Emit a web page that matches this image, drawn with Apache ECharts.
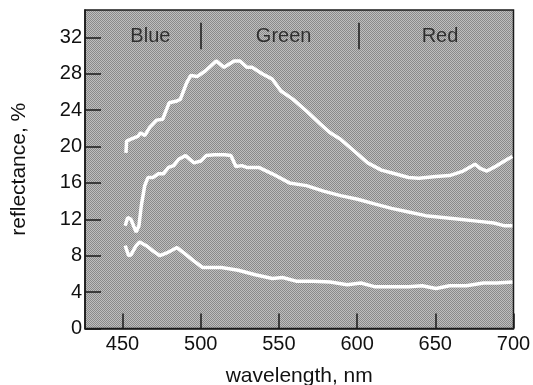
<!DOCTYPE html>
<html><head><meta charset="utf-8">
<script src="https://cdn.jsdelivr.net/npm/echarts@6/dist/echarts.min.js"></script>
<style>html,body{margin:0;padding:0;background:#fff}#c{width:533px;height:385px}</style>
</head><body><div id="c"></div>
<script>
// wavelength (nm) / reflectance (%) pairs
const upperCurve = [[452.2,19.3],[452.6,20.6],[455.4,20.8],[459.8,21.1],[461.5,21.5],[464.2,21.2],[467.4,22.1],[471.8,22.9],[475.7,23.0],[479.8,24.8],[484.8,25.0],[487,25.2],[491,27.0],[493.6,27.8],[497.9,27.7],[502.9,28.3],[509.9,29.4],[514.9,28.7],[521.4,29.4],[525.1,29.4],[529.5,28.7],[532.8,28.7],[539.3,28.0],[545.8,27.4],[551.3,26.1],[558.9,25.2],[567.6,23.9],[576.3,22.5],[582.8,21.5],[589.4,20.8],[598.1,19.5],[606.8,18.2],[615.5,17.4],[624.2,17.0],[632.9,16.6],[639.5,16.5],[650.4,16.7],[659.1,16.8],[667.8,17.3],[675.4,18.05],[678.7,17.6],[683,17.3],[689.5,17.9],[696.1,18.6],[699.3,18.9]];
const middleCurve = [[451.7,11.3],[453.3,12.2],[455.4,12.0],[457,11.3],[458.7,10.6],[460.5,11.3],[462,13.5],[464.2,15.7],[466.3,16.6],[469.6,16.6],[472.9,17.0],[476.1,17.0],[479.4,17.7],[482.7,17.9],[485.9,18.6],[490.3,19.0],[495.7,18.2],[500.1,18.4],[503.4,19.0],[508.8,19.1],[515.3,19.1],[519.3,19.0],[522.5,17.8],[526.2,17.9],[529.5,17.7],[537.1,17.7],[545.8,17.0],[556.7,16.0],[567.6,15.7],[578.5,15.1],[589.4,14.6],[600.3,14.2],[611.1,13.7],[622,13.2],[632.9,12.8],[643.8,12.4],[654.7,12.2],[665.6,12.0],[676.5,11.8],[687.4,11.6],[693.9,11.3],[699.3,11.3]];
const lowerCurve = [[451.7,9.1],[452.6,9.2],[453.9,8.0],[455.4,8.1],[458.7,9.1],[460.9,9.5],[465.2,9.1],[469.6,8.5],[473.9,8.0],[478.3,8.3],[481.6,8.6],[484.8,8.9],[489.2,8.3],[495.7,7.4],[501.2,6.7],[506.6,6.7],[513.2,6.7],[524.0,6.4],[534.9,5.9],[545.8,5.5],[552.3,5.6],[561,5.2],[571.9,5.2],[582.8,5.1],[593.7,4.8],[602.4,5.0],[611.1,4.6],[622,4.6],[632.9,4.6],[641.6,4.7],[650.4,4.4],[659.1,4.7],[669.9,4.7],[680.8,5.0],[689.5,5.0],[699.3,5.1]];
const xTicks = [450,500,550,600,650,700];
const yTicks = [0,4,8,12,16,20,24,28,32];
const bandNames = ['Blue','Green','Red'];
const bandCenters = [467.8,553,653];
const bandLabelY = 32.1;
const dividerX = [500,601];
const dividerY = [30.7,33.6];

const cv = document.createElement('canvas');
cv.width = 2; cv.height = 2;
const cx = cv.getContext('2d');
cx.fillStyle = '#bebebe'; cx.fillRect(0,0,2,2);
cx.fillStyle = '#8a8a8a'; cx.fillRect(0,0,1,1); cx.fillRect(1,1,1,1);

const font = 'Liberation Sans, Arial, Helvetica, sans-serif';
const chart = echarts.init(document.getElementById('c'), null, {renderer:'canvas'});
const lineSeries = (d) => ({type:'line', data:d, symbol:'none', smooth:false, silent:true,
  lineStyle:{color:'#ffffff', width:3.5}, z:3});
chart.setOption({
  animation:false,
  grid:{left:85, right:19.5, top:10, bottom:56.5, containLabel:false, outerBoundsMode:'none',
    show:true, borderColor:'#1a1a1a', borderWidth:1.5,
    backgroundColor:{image:cv, repeat:'repeat'}},
  xAxis:{type:'value', min:426, max:700,
    name:'wavelength, nm', nameLocation:'middle', nameGap:37,
    nameTextStyle:{fontSize:21, color:'#111', fontFamily:font},
    axisLine:{show:true, lineStyle:{color:'#1a1a1a', width:1.5}},
    axisTick:{show:true, inside:true, length:15, customValues:xTicks, lineStyle:{color:'#1a1a1a', width:1.5}},
    axisLabel:{customValues:xTicks, fontSize:20, color:'#111', fontFamily:font, margin:6},
    splitLine:{show:false}},
  yAxis:{type:'value', min:0, max:35,
    name:'reflectance, %', nameLocation:'middle', nameGap:55, nameRotate:90,
    nameTextStyle:{fontSize:21, color:'#111', fontFamily:font},
    axisLine:{show:true, lineStyle:{color:'#1a1a1a', width:1.5}},
    axisTick:{show:true, inside:true, length:16, customValues:yTicks, lineStyle:{color:'#1a1a1a', width:1.5}},
    axisLabel:{customValues:yTicks, fontSize:20, color:'#111', fontFamily:font, margin:3},
    splitLine:{show:false}},
  series:[
    lineSeries(upperCurve), lineSeries(middleCurve), lineSeries(lowerCurve),
    {type:'scatter', symbolSize:0, silent:true, z:4,
     data: bandNames.map((n,i)=>({value:[bandCenters[i], bandLabelY], name:n})),
     label:{show:true, position:'inside', formatter:p=>p.name, fontSize:20, color:'#111', fontFamily:font},
     markLine:{silent:true, symbol:['none','none'], label:{show:false},
       lineStyle:{color:'#1a1a1a', width:1.5, type:'solid'},
       data: dividerX.map(x=>[{coord:[x, dividerY[0]]},{coord:[x, dividerY[1]]}])}}
  ]
});
</script></body></html>
